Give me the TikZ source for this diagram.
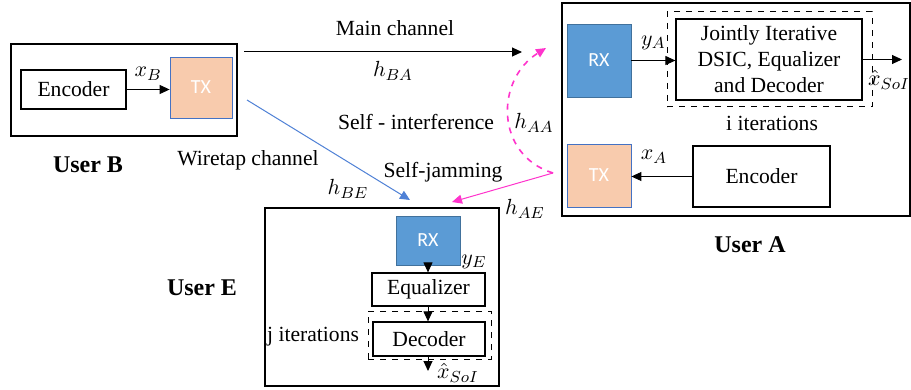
\documentclass[tikz,border=0pt]{standalone}
\usepackage{fontspec}
\setmainfont{Liberation Serif}
\newfontfamily\calib{Carlito}
\usepackage{amsmath}
\usepackage{tikz}
\usetikzlibrary{positioning,arrows.meta}
\usepackage{xcolor}
\definecolor{rxblue}{HTML}{5B9BD5}
\definecolor{rxedge}{HTML}{41719C}
\definecolor{txpeach}{HTML}{F8CBAD}
\definecolor{txedge}{HTML}{4472C4}
\definecolor{wireblue}{HTML}{4F81D6}
\definecolor{jampink}{HTML}{FF33CC}

\begin{document}
\begin{tikzpicture}[x=0.5pt,y=-0.5pt,>={Triangle[length=5pt,width=4.5pt]},
  font=\fontsize{10.8}{13}\selectfont,
  user/.style={draw,line width=0.6pt,inner sep=0pt},
  blk/.style={draw,line width=0.6pt,inner sep=0pt,align=center},
  itbox/.style={draw,dashed,line width=0.5pt,inner sep=0pt},
  rx/.style={draw=rxedge,fill=rxblue,text=white,font=\calib\fontsize{10}{12}\selectfont,inner sep=0pt,minimum width=32pt},
  tx/.style={draw=txedge,fill=txpeach,text=white,font=\calib\fontsize{10}{12}\selectfont,inner sep=0pt,minimum width=32pt},
  usr/.style={font=\bfseries\fontsize{12}{14}\selectfont},
  conn/.style={->,line width=0.5pt}]
\useasboundingbox[fill=white] (0,0) rectangle (911,390);

% user B
\node[user,minimum width=113pt,minimum height=46pt] (boxB) at (124,90) {};
\node[blk,minimum width=52.5pt,minimum height=19.5pt] (encB) at (73.5,89.5) {Encoder};
\node[tx,minimum width=31pt,minimum height=30.5pt] (txB) at (201,87.5) {TX};
\draw[conn] (encB.east) -- (encB.east -| txB.west) node[midway,above=1pt] {$x_B$};
\node[usr] (labB) at (88,165) {User B};

% user A
\node[user,minimum width=174pt,minimum height=106.5pt] (boxA) at (736,109.5) {};
\node[rx,minimum height=36.5pt] (rxA) at (599,60.5) {RX};
\node[itbox,minimum width=102.5pt,minimum height=47.5pt] (itA) at (769.5,59.5) {};
\node[blk,minimum width=93pt,minimum height=40.5pt] (joint) at (769,59.5) {Jointly Iterative\\DSIC, Equalizer\\and Decoder};
\node[tx,minimum height=31.5pt] (txA) at (599,175.5) {TX};
\node[blk,minimum width=68.5pt,minimum height=30.5pt] (encA) at (761.5,176.5) {Encoder};
\coordinate (outA) at (902,59.5);
\draw[conn] (rxA.east) -- (rxA.east -| joint.west) node[midway,above=2pt] {$y_A$};
\draw[conn] (joint.east) -- (outA);
\node (xhatA) at (889,80) {$\hat{x}_{SoI}$};
\node (iterA) at (772,123) {i iterations};
\draw[conn] (encA.west) -- (encA.west -| txA.east) node[midway,above=3pt,xshift=-4pt] {$x_A$};
\node[usr] (labA) at (750,245) {User A};

% user E
\node[user,minimum width=117pt,minimum height=89pt] (boxE) at (382,297) {};
\node[rx,minimum height=24.5pt] (rxE) at (428,240.5) {RX};
\node[blk,minimum width=56.5pt,minimum height=16.5pt] (eqE) at (428.5,289.5) {Equalizer};
\node[itbox,minimum width=61.5pt,minimum height=24pt] (itE) at (429.5,335) {};
\node[blk,minimum width=56pt,minimum height=17pt] (decE) at (429,339) {Decoder};
\coordinate (outE) at (428,371);
\draw[conn] (rxE.south) -- (rxE.south |- eqE.north);
\node (yE) at (474,262) {$y_E$};
\draw[conn] (eqE.south -| rxE.south) -- (decE.north -| rxE.south);
\draw[conn] (decE.south -| rxE.south) -- (outE);
\node (xhatE) at (458,373) {$\hat{x}_{SoI}$};
\node[anchor=east] (iterE) at (366,337) {j iterations};
\node[usr] (labE) at (202,288) {User E};

% channels
\coordinate (mainS) at (244,52);
\coordinate (mainE) at (522,52);
\draw[conn] (mainS) -- (mainE);
\node (mainL) at (395,28) {Main channel};
\node (hBA) at (393,71) {$h_{BA}$};

\coordinate (wireS) at (247,100);
\coordinate (wireE) at (410,200);
\draw[conn,wireblue] (wireS) -- (wireE);
\node (wireL) at (248,160) {Wiretap channel};
\node (hBE) at (348,189) {$h_{BE}$};

\coordinate (jamS) at (553,173);
\coordinate (jamE) at (452,202);
\coordinate (siE) at (546,48);
\draw[conn,jampink] (jamS) -- (jamE);
\draw[conn,jampink,dashed,line width=0.8pt] (jamS) .. controls (495,155) and (495,80) .. (siE);
\node (selfI) at (416,122) {Self - interference};
\node (hAA) at (534,123) {$h_{AA}$};
\node (selfJ) at (443,172) {Self-jamming};
\node (hAE) at (525,209) {$h_{AE}$};
\end{tikzpicture}
\end{document}
